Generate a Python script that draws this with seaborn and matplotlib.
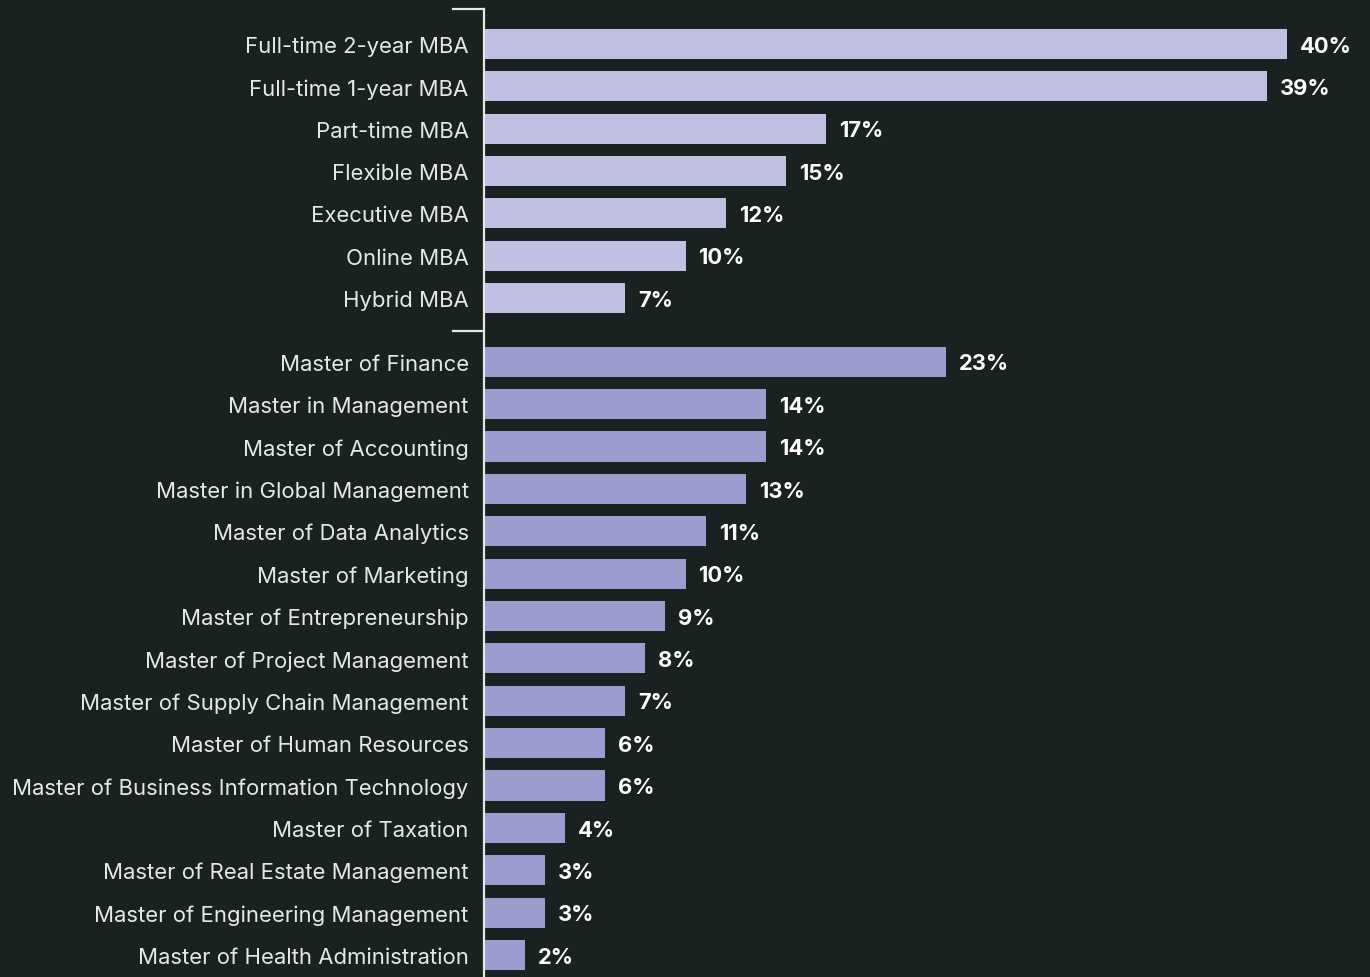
import numpy as np
import pandas as pd
import matplotlib
matplotlib.use("Agg")
import matplotlib.pyplot as plt
import seaborn as sns

BG = '#1a2121'
MBA_COLOR = '#c0c0e2'
MASTER_COLOR = '#9c9cce'

mba_programs = ['Full-time 2-year MBA', 'Full-time 1-year MBA', 'Part-time MBA',
                'Flexible MBA', 'Executive MBA', 'Online MBA', 'Hybrid MBA']
mba_values = [40, 39, 17, 15, 12, 10, 7]

master_programs = ['Master of Finance', 'Master in Management', 'Master of Accounting',
                   'Master in Global Management', 'Master of Data Analytics',
                   'Master of Marketing', 'Master of Entrepreneurship',
                   'Master of Project Management', 'Master of Supply Chain Management',
                   'Master of Human Resources', 'Master of Business Information Technology',
                   'Master of Taxation', 'Master of Real Estate Management',
                   'Master of Engineering Management', 'Master of Health Administration']
master_values = [23, 14, 14, 13, 11, 10, 9, 8, 7, 6, 6, 4, 3, 3, 2]

# row positions, with half a row of space between the two groups
mba_pos = list(np.arange(len(mba_programs), dtype=float))
master_pos = list(np.arange(len(master_programs)) + len(mba_programs) + 0.5)

df = pd.DataFrame({
    'program': mba_programs + master_programs,
    'value': mba_values + master_values,
    'pos': mba_pos + master_pos,
    'group': ['MBA'] * len(mba_programs) + ['Master'] * len(master_programs),
})

plt.rcParams['font.family'] = ['Inter', 'DejaVu Sans']
fig = plt.figure(figsize=(13.7, 9.78), dpi=100, facecolor=BG)
ax = fig.add_axes([484 / 1370, 0, 1 - 484 / 1370, 1])
ax.set_facecolor(BG)

sns.barplot(data=df, x='value', y='pos', hue='group', orient='y', native_scale=True,
            dodge=False, palette={'MBA': MBA_COLOR, 'Master': MASTER_COLOR},
            saturation=1, width=0.71, legend=False, ax=ax, linewidth=0)

ax.set_xlim(-0.05, 44.14)
ax.set_ylim(22.02, -1.06)

for _, row in df.iterrows():
    ax.text(row['value'] + 0.65, row['pos'] + 0.04, f"{row['value']}%", va='center', ha='left',
            color='white', fontsize=15.8, fontweight='bold')

ax.set_yticks(df['pos'])
ax.set_yticklabels(df['program'], fontsize=15.9, color='#e6e8e8')
ax.tick_params(axis='y', length=0, pad=11)
ax.set_xticks([])
ax.set_xlabel('')
ax.set_ylabel('')
for s in ax.spines.values():
    s.set_visible(False)

# bracket line on the left with marks at the top and between groups
ax.plot([-0.05, -0.05], [-0.82, 22.02], color='#e6e8e8', lw=1.6, clip_on=False)
for yb in [-0.82, 6.77]:
    ax.plot([-1.6, -0.05], [yb, yb], color='#e6e8e8', lw=1.6, clip_on=False)

fig.savefig('out.png', dpi=100, facecolor=BG)
